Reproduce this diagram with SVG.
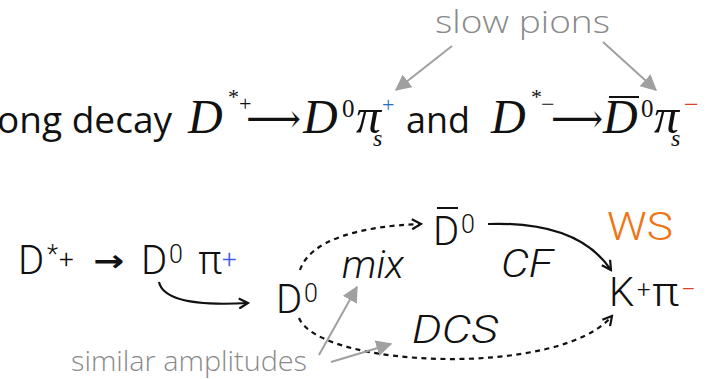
<svg xmlns="http://www.w3.org/2000/svg" width="708" height="379" viewBox="0 0 708 379">
<defs>
<style>
.sans{font-family:"Open Sans","DejaVu Sans",sans-serif;fill:#111}
.math{font-family:"Liberation Serif","DejaVu Serif",serif;font-style:italic;fill:#111}
.up{font-family:"Liberation Serif","DejaVu Serif",serif;fill:#111}
.lt{font-family:Roboto,"Liberation Sans",sans-serif;font-weight:300;fill:#111}
.lti{font-family:Roboto,"Liberation Sans",sans-serif;font-weight:300;font-style:italic;fill:#111}
.gray{font-family:"Open Sans","Noto Sans",sans-serif;font-weight:300;fill:#8a8a8a}
.blue{fill:#2a6fc0}
.blue2{fill:#3a5ee8}
.red{fill:#e0402a}
.conn{fill:none;stroke:#111;stroke-width:2.2}
.dash{stroke-dasharray:5 4.5}
.garr{fill:none;stroke:#a0a0a0;stroke-width:2}
</style>
<marker id="open" viewBox="0 0 12 12" refX="10" refY="6" markerWidth="12" markerHeight="12" markerUnits="userSpaceOnUse" orient="auto">
<path d="M1,1 L10,6 L1,11" fill="none" stroke="#111" stroke-width="2.2"/>
</marker>
<marker id="gtri" viewBox="0 0 12 12" refX="11" refY="6" markerWidth="16" markerHeight="16" markerUnits="userSpaceOnUse" orient="auto">
<path d="M0,0 L12,6 L0,12 Z" fill="#a0a0a0"/>
</marker>
</defs>

<g id="equation">
<text class="sans" x="-3" y="133" font-size="36" textLength="175" lengthAdjust="spacingAndGlyphs">ong decay</text>
<text class="math" x="188" y="133" font-size="48">D</text>
<text class="up" x="228" y="104" font-size="22">*</text>
<text class="up" x="239" y="111" font-size="22">+</text>
<text class="up" x="246" y="132" font-size="40" textLength="55" lengthAdjust="spacingAndGlyphs">⟶</text>
<text class="math" x="303" y="133" font-size="48">D</text>
<text class="up" x="342" y="117" font-size="25">0</text>
<text class="math" x="356" y="133" font-size="50" textLength="25" lengthAdjust="spacingAndGlyphs">π</text>
<text class="math" x="373" y="146" font-size="24">s</text>
<text class="up blue" x="382" y="112" font-size="22">+</text>
<text class="sans" x="406" y="133" font-size="36" textLength="64" lengthAdjust="spacingAndGlyphs">and</text>
<text class="math" x="491" y="133" font-size="48">D</text>
<text class="up" x="531" y="104" font-size="22">*</text>
<text class="up" x="541" y="112" font-size="24">−</text>
<text class="up" x="551" y="132" font-size="40" textLength="52" lengthAdjust="spacingAndGlyphs">⟶</text>
<text class="math" x="603" y="133" font-size="48">D</text>
<line x1="609" y1="97" x2="639" y2="97" stroke="#111" stroke-width="2"/>
<text class="up" x="641" y="117" font-size="25">0</text>
<text class="math" x="654" y="133" font-size="50" textLength="25" lengthAdjust="spacingAndGlyphs">π</text>
<text class="math" x="671" y="146" font-size="24">s</text>
<text class="up red" x="684" y="113" font-size="26">−</text>
</g>

<g id="slow-pions">
<text class="gray" x="435" y="33" font-size="31" textLength="175" lengthAdjust="spacingAndGlyphs">slow pions</text>
</g>

<g id="n-dstar">
<text class="lt" x="18" y="274" font-size="40">D</text>
<text class="lt" x="47" y="263" font-size="26">*</text>
<text class="lt" x="59" y="268" font-size="26">+</text>
<text x="93" y="271" font-family="'DejaVu Sans',sans-serif" font-weight="bold" font-size="30" fill="#111" textLength="31" lengthAdjust="spacingAndGlyphs">→</text>
<text class="lt" x="141" y="274" font-size="40">D</text>
<text class="lt" x="169" y="263" font-size="25">0</text>
<text class="lt" x="198" y="274" font-size="40" textLength="24" lengthAdjust="spacingAndGlyphs">π</text>
<text class="lt blue2" x="222" y="268" font-size="26">+</text>
</g>

<g id="n-d0">
<text class="lt" x="276" y="313" font-size="40">D</text>
<text class="lt" x="304" y="302" font-size="25">0</text>
</g>

<g id="n-d0bar">
<text class="lt" x="433" y="245" font-size="40">D</text>
<line x1="437" y1="208" x2="458" y2="208" stroke="#111" stroke-width="2"/>
<text class="lt" x="461" y="233" font-size="25">0</text>
</g>

<g id="n-kpi">
<text class="lt" x="609" y="306" font-size="40">K</text>
<text class="lt" x="637" y="298" font-size="24">+</text>
<text class="lt" x="652" y="306" font-size="40" textLength="27" lengthAdjust="spacingAndGlyphs">π</text>
<text class="lt red" x="681" y="298" font-size="26">−</text>
</g>

<g id="labels">
<text class="lti" x="342" y="278" font-size="38" textLength="62" lengthAdjust="spacingAndGlyphs">mix</text>
<text class="lti" x="501" y="277" font-size="38" textLength="52" lengthAdjust="spacingAndGlyphs">CF</text>
<text class="lti" x="412" y="343" font-size="38" textLength="86" lengthAdjust="spacingAndGlyphs">DCS</text>
<text class="lt" x="607" y="240" font-size="38" fill="#f07414" style="fill:#f07414" textLength="66" lengthAdjust="spacingAndGlyphs">WS</text>
<text class="gray" x="71" y="371" font-size="27" textLength="236" lengthAdjust="spacingAndGlyphs">similar amplitudes</text>
</g>

<g id="connectors">
<path class="conn" d="M159,282 C163,300 195,306 248,303" marker-end="url(#open)"/>
<path class="conn dash" d="M300,270 C310,240 360,226 421,224" marker-end="url(#open)"/>
<path class="conn" d="M488,224 C545,222 588,236 611,270" marker-end="url(#open)"/>
<path class="conn dash" d="M299,318 C320,368 560,378 612,316" marker-end="url(#open)"/>
<path class="garr" d="M452,46 L396,90" marker-end="url(#gtri)"/>
<path class="garr" d="M603,42 L656,90" marker-end="url(#gtri)"/>
<path class="garr" d="M319,355 L357,287" marker-end="url(#gtri)"/>
<path class="garr" d="M331,362 L391,344" marker-end="url(#gtri)"/>
</g>
</svg>
